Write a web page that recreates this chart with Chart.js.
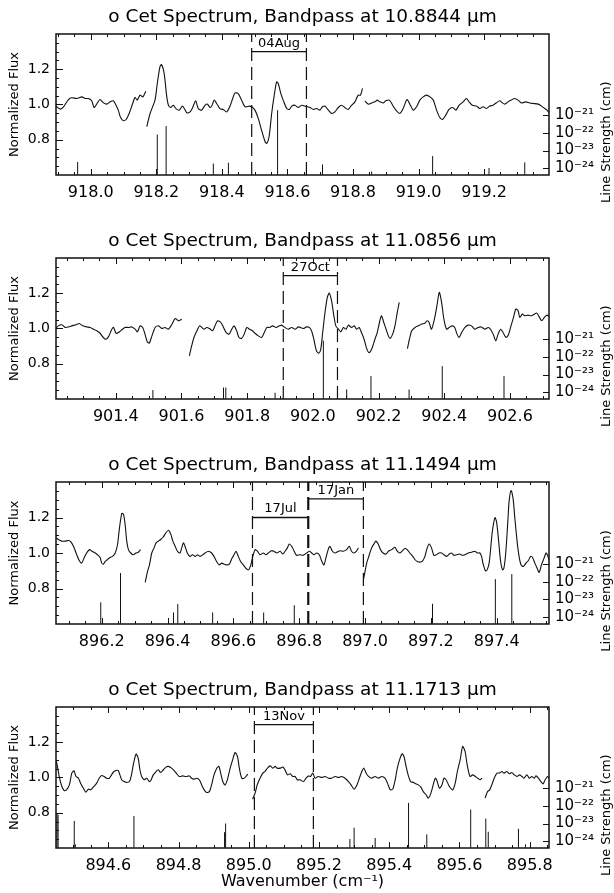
<!DOCTYPE html>
<html>
<head>
<meta charset="utf-8">
<script src="https://cdn.jsdelivr.net/npm/chart.js@4.4.0/dist/chart.umd.min.js"></script>
<style>
  html, body { margin: 0; background: #fff; }
  #wrap { position: relative; width: 614px; height: 893px; }
  .panel { position: absolute; left: 0; width: 614px; }
</style>
</head>
<body>
<div id="wrap">
  <div class="panel" style="top:0;height:224px"><canvas id="c1"></canvas></div>
  <div class="panel" style="top:224px;height:224px"><canvas id="c2"></canvas></div>
  <div class="panel" style="top:448px;height:225px"><canvas id="c3"></canvas></div>
  <div class="panel" style="top:673px;height:220px"><canvas id="c4"></canvas></div>
</div>
<script>
// shared axes
const panelTitles = [
  'o Cet Spectrum, Bandpass at 10.8844 μm',
  'o Cet Spectrum, Bandpass at 11.0856 μm',
  'o Cet Spectrum, Bandpass at 11.1494 μm',
  'o Cet Spectrum, Bandpass at 11.1713 μm'
];
const fluxRange = [0.6, 1.4];
const fluxTicks = [0.8, 1.0, 1.2];
const strengthRange = [4.2e-25, 4.5e-17];
const strengthTicks = [1e-21, 1e-22, 1e-23, 1e-24];
const strengthTickLabels = ['10⁻²¹', '10⁻²²', '10⁻²³', '10⁻²⁴'];
const strengthTitleAt = 3e-23;

// panel 1 (10.8844 um), null flux = gap in the spectrum
const p1XRange = [917.894, 919.398];
const p1XTicks = [918.0, 918.2, 918.4, 918.6, 918.8, 919.0, 919.2];
const p1Wave = [917.894, 917.907, 917.917, 917.932, 917.942, 917.957, 917.973, 917.983, 917.993, 918.003, 918.010, 918.018, 918.028, 918.039, 918.049, 918.059, 918.069, 918.077, 918.084, 918.091, 918.100, 918.108, 918.118, 918.128, 918.135, 918.142, 918.150, 918.159, 918.168,
  918.170,
  918.171, 918.181, 918.196, 918.203, 918.211, 918.216, 918.224, 918.232, 918.237, 918.244, 918.252, 918.260, 918.270, 918.280, 918.293, 918.303, 918.311, 918.320, 918.328, 918.338, 918.349, 918.356, 918.364, 918.369, 918.377, 918.384, 918.394, 918.404, 918.415, 918.425, 918.433, 918.440, 918.450, 918.460, 918.471, 918.484, 918.491, 918.501, 918.511, 918.521, 918.532, 918.537, 918.544, 918.552, 918.559, 918.567, 918.572, 918.580, 918.587, 918.598, 918.606, 918.613, 918.623, 918.633, 918.643, 918.653, 918.669, 918.679, 918.689, 918.699, 918.707, 918.714, 918.725, 918.735, 918.745, 918.755, 918.765, 918.775, 918.785, 918.796, 918.806, 918.816, 918.823, 918.829,
  918.832,
  918.836, 918.847, 918.857, 918.867, 918.874, 918.882, 918.892, 918.900, 918.911, 918.921, 918.931, 918.943, 918.953, 918.965, 918.975, 918.984, 918.994, 919.004, 919.014, 919.024, 919.035, 919.045, 919.055, 919.065, 919.073, 919.083, 919.093, 919.104, 919.114, 919.124, 919.136, 919.146, 919.154, 919.164, 919.177, 919.187, 919.197, 919.207, 919.217, 919.227, 919.237, 919.248, 919.256, 919.263, 919.273, 919.283, 919.293, 919.304, 919.314, 919.327, 919.339, 919.349, 919.365, 919.375, 919.385, 919.392, 919.398];
const p1Flux = [0.990, 0.974, 0.987, 1.028, 1.038, 1.034, 1.043, 1.034, 1.034, 1.021, 0.983, 1.002, 1.028, 1.009, 1.002, 1.015, 1.021, 0.996, 0.968, 0.926, 0.908, 0.915, 0.953, 1.006, 1.040, 1.025, 1.053, 1.043, 1.075,
  null,
  0.874, 0.949, 1.025, 1.119, 1.213, 1.226, 1.175, 1.043, 0.996, 0.983, 0.996, 0.977, 0.968, 0.991, 0.953, 0.958, 0.983, 1.021, 0.977, 0.968, 0.996, 1.002, 0.983, 0.991, 1.025, 1.006, 0.977, 0.972, 0.958, 0.991, 1.034, 1.066, 1.062, 1.025, 0.987, 0.991, 0.987, 0.968, 0.921, 0.855, 0.789, 0.779, 0.817, 0.949, 1.043, 1.128, 1.119, 1.062, 1.025, 0.977, 0.972, 0.991, 0.996, 0.983, 0.996, 0.991, 0.983, 0.972, 0.977, 0.968, 0.987, 0.991, 0.968, 0.949, 0.958, 0.983, 0.996, 0.983, 0.972, 0.996, 1.015, 1.053, 1.053, 1.091,
  null,
  1.021, 1.002, 1.009, 1.015, 1.025, 1.015, 1.009, 1.021, 1.025, 0.996, 0.968, 0.949, 0.977, 1.028, 0.996, 0.968, 0.987, 1.025, 1.043, 1.053, 1.043, 1.025, 0.968, 0.926, 0.915, 0.940, 0.972, 0.983, 0.968, 0.996, 1.015, 1.034, 1.015, 0.996, 0.991, 0.977, 0.987, 0.977, 0.991, 0.996, 1.009, 1.021, 1.009, 1.002, 1.015, 1.025, 1.034, 1.025, 1.009, 1.015, 1.009, 1.006, 1.002, 0.991, 0.977, 0.968, 0.953];
const p1LineWave = [917.960, 918.203, 918.230, 918.374, 918.420, 918.570, 918.707, 918.857, 919.043, 919.215, 919.324];
const p1LineStrength = [2.2e-24, 8.1e-23, 2.5e-22, 1.8e-24, 2.0e-24, 2.0e-21, 1.6e-24, 6.3e-25, 4.8e-24, 1.0e-24, 2.1e-24];
const p1Marks = [918.491, 918.658];
const p1BandText = ['04Aug'];
const p1BandFrom = [918.491];
const p1BandTo = [918.658];
const p1BandLevel = [1.30];

// panel 2 (11.0856 um)
const p2XRange = [901.218, 902.719];
const p2XTicks = [901.4, 901.6, 901.8, 902.0, 902.2, 902.4, 902.6];
const p2Wave = [901.218, 901.225, 901.236, 901.246, 901.256, 901.266, 901.279, 901.289, 901.300, 901.312, 901.322, 901.332, 901.342, 901.352, 901.362, 901.370, 901.378, 901.388, 901.393, 901.401, 901.408, 901.418, 901.428, 901.439, 901.449, 901.459, 901.466, 901.474, 901.482, 901.489, 901.496, 901.502, 901.510, 901.520, 901.530, 901.540, 901.550, 901.560, 901.570, 901.581, 901.591, 901.601,
  901.610,
  901.624, 901.631, 901.638, 901.647, 901.655, 901.662, 901.669, 901.677, 901.685, 901.695, 901.702, 901.710, 901.720, 901.728, 901.736, 901.745, 901.753, 901.760, 901.768, 901.775, 901.783, 901.791, 901.799, 901.807, 901.816, 901.824, 901.834, 901.844, 901.851, 901.860, 901.868, 901.878, 901.888, 901.898, 901.905, 901.915, 901.925, 901.936, 901.946, 901.956, 901.971, 901.981, 901.989, 901.996, 902.003, 902.011, 902.018, 902.024, 902.030, 902.037, 902.044, 902.050, 902.057, 902.064, 902.070, 902.078, 902.085, 902.093, 902.101, 902.108, 902.118, 902.126, 902.133, 902.141, 902.148, 902.156, 902.164, 902.171, 902.179, 902.189, 902.196, 902.204, 902.209, 902.216, 902.223, 902.230, 902.235, 902.243, 902.250, 902.257, 902.263,
  902.275,
  902.288, 902.294, 902.301, 902.311, 902.321, 902.331, 902.341, 902.348, 902.354, 902.361, 902.369, 902.377, 902.385, 902.392, 902.399, 902.407, 902.415, 902.425, 902.432, 902.439, 902.445, 902.453, 902.463, 902.473, 902.483, 902.493, 902.503, 902.513, 902.524, 902.534, 902.541, 902.549, 902.557, 902.564, 902.572, 902.579, 902.588, 902.595, 902.602, 902.610, 902.618, 902.625, 902.630, 902.638, 902.645, 902.655, 902.665, 902.675, 902.682, 902.690, 902.697, 902.705, 902.713, 902.719];
const p2Flux = [1.000, 1.015, 1.021, 1.006, 1.009, 1.015, 1.021, 1.028, 1.015, 1.009, 1.006, 0.996, 0.987, 0.973, 0.949, 0.939, 0.954, 0.996, 1.006, 0.973, 0.977, 0.992, 1.006, 1.006, 1.009, 0.996, 0.981, 1.015, 1.006, 0.968, 0.924, 0.917, 0.958, 1.006, 1.015, 1.000, 1.006, 0.996, 1.021, 1.057, 1.044, 1.053,
  null,
  0.844, 0.901, 0.949, 0.987, 1.015, 1.006, 0.996, 1.006, 1.000, 0.987, 1.015, 1.044, 1.034, 1.006, 0.977, 0.968, 0.996, 1.015, 0.987, 0.949, 0.943, 0.968, 1.006, 0.996, 0.987, 0.973, 0.958, 0.949, 0.973, 1.006, 1.006, 1.015, 1.006, 1.015, 1.019, 1.006, 0.996, 1.006, 0.996, 1.009, 1.000, 1.009, 1.006, 0.987, 0.939, 0.873, 0.860, 0.882, 0.977, 1.091, 1.176, 1.201, 1.157, 1.072, 1.015, 0.996, 0.981, 1.006, 0.996, 1.019, 1.006, 1.015, 0.996, 1.006, 0.977, 0.939, 0.886, 0.863, 0.882, 0.939, 0.977, 1.044, 1.072, 1.034, 0.996, 0.958, 0.943, 0.968, 1.015, 1.091, 1.148,
  null,
  0.886, 0.939, 0.987, 1.006, 1.015, 1.025, 1.030, 1.044, 1.034, 0.996, 1.044, 1.120, 1.205, 1.148, 1.053, 0.996, 1.006, 1.015, 1.006, 0.968, 0.949, 0.977, 1.006, 1.019, 1.015, 0.996, 1.006, 1.009, 0.996, 1.006, 0.996, 0.968, 0.930, 0.968, 0.996, 0.977, 0.949, 0.962, 1.006, 1.057, 1.110, 1.101, 1.063, 1.082, 1.072, 1.076, 1.072, 1.082, 1.087, 1.063, 1.044, 1.063, 1.076, 1.068];
const p2LineWave = [901.513, 901.728, 901.735, 901.885, 902.032, 902.103, 902.177, 902.293, 902.394, 902.582];
const p2LineStrength = [1.3e-24, 1.8e-24, 1.8e-24, 9.1e-25, 8.7e-22, 1.4e-24, 8.1e-24, 1.4e-24, 3.0e-23, 8.1e-24];
const p2Marks = [901.910, 902.075];
const p2BandText = ['27Oct'];
const p2BandFrom = [901.910];
const p2BandTo = [902.075];
const p2BandLevel = [1.30];

// panel 3 (11.1494 um)
const p3XRange = [896.061, 897.559];
const p3XTicks = [896.2, 896.4, 896.6, 896.8, 897.0, 897.2, 897.4];
const p3Wave = [896.061, 896.068, 896.078, 896.089, 896.099, 896.106, 896.114, 896.122, 896.132, 896.139, 896.146, 896.154, 896.163, 896.170, 896.180, 896.187, 896.195, 896.200, 896.205, 896.210, 896.217, 896.225, 896.233, 896.241, 896.248, 896.254, 896.261, 896.266, 896.271, 896.276, 896.281, 896.288, 896.296, 896.304, 896.311, 896.318,
  896.325,
  896.332, 896.339, 896.345, 896.352, 896.359, 896.365, 896.372, 896.379, 896.387, 896.395, 896.403, 896.410, 896.416, 896.423, 896.430, 896.438, 896.443, 896.448, 896.453, 896.460, 896.468, 896.476, 896.484, 896.491, 896.499, 896.507, 896.514, 896.524, 896.534, 896.541, 896.549, 896.557, 896.565, 896.572, 896.580, 896.588, 896.595, 896.602, 896.608, 896.615, 896.622, 896.630, 896.638, 896.646, 896.653, 896.659, 896.666, 896.673, 896.681, 896.691, 896.699, 896.706, 896.716, 896.723, 896.732, 896.742, 896.750, 896.757, 896.764, 896.770, 896.777, 896.784, 896.792, 896.802, 896.812, 896.823, 896.831, 896.838, 896.845, 896.853, 896.861, 896.868, 896.875, 896.881, 896.888, 896.893, 896.901, 896.909, 896.919, 896.926, 896.934, 896.944, 896.952, 896.959, 896.966, 896.974, 896.980,
  896.988,
  896.995, 897.000, 897.005, 897.013, 897.020, 897.027, 897.033, 897.040, 897.047, 897.055, 897.064, 897.071, 897.081, 897.091, 897.098, 897.106, 897.114, 897.121, 897.128, 897.136, 897.145, 897.152, 897.159, 897.167, 897.175, 897.182, 897.189, 897.195, 897.202, 897.209, 897.217, 897.225, 897.233, 897.240, 897.248, 897.256, 897.263, 897.270, 897.278, 897.288, 897.296, 897.303, 897.314, 897.324, 897.334, 897.341, 897.349, 897.354, 897.359, 897.366, 897.371, 897.377, 897.381, 897.387, 897.395, 897.400, 897.406, 897.412, 897.418, 897.422, 897.428, 897.434, 897.438, 897.444, 897.450, 897.455, 897.462, 897.468, 897.474, 897.481, 897.489, 897.496, 897.503, 897.509, 897.516, 897.523, 897.529, 897.536, 897.544, 897.550, 897.554, 897.559];
const p3Flux = [1.086, 1.076, 1.067, 1.067, 1.070, 1.063, 1.038, 1.000, 0.956, 0.943, 0.971, 1.000, 1.019, 1.010, 1.000, 0.990, 0.975, 0.943, 0.937, 0.952, 0.962, 0.975, 0.981, 1.000, 1.048, 1.143, 1.223, 1.219, 1.162, 1.067, 1.019, 1.000, 0.990, 1.000, 1.004, 1.019,
  null,
  0.834, 0.895, 0.933, 1.000, 1.029, 1.057, 1.067, 1.076, 1.090, 1.114, 1.128, 1.105, 1.067, 1.038, 1.010, 1.000, 1.029, 1.057, 1.038, 1.000, 0.981, 0.990, 0.981, 0.990, 0.981, 0.990, 1.000, 1.010, 1.000, 0.981, 0.952, 0.933, 0.943, 0.937, 0.933, 0.937, 0.968, 0.990, 1.010, 0.981, 0.952, 0.933, 0.914, 0.905, 0.933, 0.981, 1.019, 1.010, 0.990, 1.000, 0.990, 1.000, 1.013, 1.010, 1.000, 1.010, 0.994, 1.010, 1.029, 1.051, 1.038, 1.013, 0.987, 0.990, 0.987, 1.000, 1.010, 1.000, 0.990, 1.000, 0.990, 0.956, 0.933, 0.971, 1.019, 1.038, 1.010, 1.000, 1.010, 1.013, 1.010, 1.019, 1.038, 1.010, 1.000, 1.010, 1.029,
  null,
  0.848, 0.895, 0.943, 0.990, 1.029, 1.051, 1.067, 1.051, 1.019, 1.000, 0.994, 1.010, 1.019, 1.032, 1.010, 1.000, 1.013, 1.025, 1.019, 1.000, 0.981, 0.962, 0.952, 0.949, 0.956, 0.981, 1.029, 1.051, 1.029, 0.987, 0.990, 1.000, 1.000, 0.990, 0.981, 0.994, 1.000, 0.987, 0.990, 0.994, 0.987, 0.990, 1.000, 1.004, 1.010, 1.000, 1.000, 0.981, 0.937, 0.899, 0.905, 0.943, 1.010, 1.124, 1.200, 1.171, 1.067, 0.952, 0.905, 0.914, 1.010, 1.181, 1.295, 1.352, 1.305, 1.200, 1.067, 0.981, 0.933, 0.924, 0.943, 0.956, 0.981, 0.975, 0.943, 0.914, 0.891, 0.933, 0.971, 1.000, 0.990, 0.962];
const p3LineWave = [896.197, 896.257, 896.418, 896.431, 896.537, 896.692, 896.785, 897.205, 897.396, 897.446];
const p3LineStrength = [6.8e-24, 3.1e-22, 1.8e-24, 5.5e-24, 1.8e-24, 1.8e-24, 4.6e-24, 5.6e-24, 1.4e-22, 2.7e-22];
const p3Marks = [896.658, 896.826, 896.829, 896.995];
const p3BandText = ['17Jul', '17Jan'];
const p3BandFrom = [896.658, 896.828];
const p3BandTo = [896.828, 896.995];
const p3BandLevel = [1.20, 1.305];

// panel 4 (11.1713 um)
const p4XRange = [894.451, 895.855];
const p4XTicks = [894.6, 894.8, 895.0, 895.2, 895.4, 895.6, 895.8];
const p4Wave = [894.451, 894.455, 894.460, 894.467, 894.474, 894.481, 894.489, 894.496, 894.502, 894.508, 894.515, 894.521, 894.529, 894.536, 894.543, 894.550, 894.557, 894.567, 894.574, 894.581, 894.588, 894.595, 894.603, 894.609, 894.616, 894.622, 894.628, 894.633, 894.638, 894.645, 894.652, 894.660, 894.666, 894.671, 894.679, 894.685, 894.690, 894.695, 894.702, 894.709, 894.717, 894.721, 894.728, 894.736, 894.742, 894.749, 894.757, 894.764, 894.771, 894.780, 894.787, 894.795, 894.802, 894.812, 894.821, 894.831, 894.837, 894.844, 894.852, 894.859, 894.866, 894.873, 894.880, 894.888, 894.894, 894.901, 894.909, 894.915, 894.920, 894.926, 894.932, 894.939, 894.947, 894.954, 894.961, 894.968, 894.973, 894.980, 894.987, 894.992, 894.997,
  895.004,
  895.011, 895.018, 895.024, 895.032, 895.040, 895.046, 895.053, 895.061, 895.068, 895.075, 895.081, 895.089, 895.097, 895.103, 895.110, 895.118, 895.125, 895.132, 895.138, 895.146, 895.156, 895.163, 895.170, 895.176, 895.182, 895.189, 895.198, 895.208, 895.217, 895.227, 895.236, 895.246, 895.255, 895.265, 895.274, 895.284, 895.293, 895.300, 895.308, 895.315, 895.322, 895.328, 895.334, 895.341, 895.350, 895.360, 895.369, 895.379, 895.388, 895.395, 895.403, 895.410, 895.417, 895.423, 895.431, 895.437, 895.442, 895.448, 895.455, 895.461, 895.469, 895.476, 895.483, 895.490, 895.497, 895.505, 895.511, 895.518, 895.524, 895.531, 895.535, 895.543, 895.550, 895.556, 895.562, 895.569, 895.575, 895.581, 895.588, 895.594, 895.602, 895.609, 895.616, 895.622, 895.630, 895.638, 895.645, 895.652, 895.659, 895.664,
  895.668,
  895.673, 895.680, 895.686, 895.692, 895.699, 895.707, 895.714, 895.721, 895.727, 895.735, 895.742, 895.749, 895.756, 895.764, 895.771, 895.778, 895.784, 895.792, 895.799, 895.806, 895.813, 895.818, 895.825, 895.832, 895.838, 895.844, 895.851, 895.855];
const p4Flux = [1.100, 1.063, 1.006, 0.953, 0.926, 0.930, 0.958, 1.025, 1.038, 1.006, 0.996, 0.968, 0.939, 0.917, 0.934, 0.930, 0.945, 0.968, 0.996, 1.011, 1.006, 0.996, 0.996, 1.015, 1.034, 1.040, 1.040, 1.015, 0.987, 0.977, 0.972, 0.977, 1.015, 1.072, 1.133, 1.110, 1.044, 1.006, 0.987, 0.996, 0.977, 0.983, 1.015, 1.034, 1.044, 1.028, 1.044, 1.059, 1.063, 1.053, 1.040, 1.021, 1.006, 1.009, 1.006, 1.009, 0.996, 0.991, 0.996, 0.987, 0.958, 0.930, 0.915, 0.920, 0.958, 1.015, 1.053, 1.063, 1.025, 0.977, 0.958, 0.987, 1.053, 1.100, 1.142, 1.119, 1.053, 0.996, 0.996, 1.006, 1.019,
  null,
  0.877, 0.911, 0.958, 0.996, 1.025, 1.034, 1.053, 1.066, 1.053, 1.063, 1.053, 1.053, 1.059, 1.044, 1.015, 1.021, 1.006, 1.006, 0.987, 0.987, 0.977, 0.996, 1.009, 1.006, 1.025, 0.996, 1.006, 1.000, 1.006, 0.996, 0.996, 1.006, 1.000, 1.006, 0.996, 0.977, 0.953, 0.934, 0.958, 0.996, 1.034, 1.053, 1.025, 1.006, 0.996, 1.006, 0.996, 1.006, 0.996, 0.968, 0.930, 0.934, 0.987, 1.053, 1.110, 1.134, 1.119, 1.063, 1.006, 0.977, 0.972, 0.964, 0.958, 0.945, 0.920, 0.902, 0.883, 0.907, 0.949, 0.996, 0.987, 0.939, 0.958, 0.996, 0.987, 0.958, 0.939, 0.930, 0.968, 1.034, 1.100, 1.176, 1.148, 1.072, 1.006, 1.015, 1.006, 0.996, 0.987, 0.996,
  null,
  0.883, 0.920, 0.930, 0.958, 0.996, 1.025, 1.025, 1.034, 1.025, 1.034, 1.021, 1.028, 1.015, 1.006, 1.015, 1.006, 0.996, 1.015, 0.996, 1.006, 0.996, 1.009, 0.996, 0.977, 0.964, 0.987, 1.006, 0.996];
const p4LineWave = [894.454, 894.457, 894.503, 894.506, 894.673, 894.931, 894.934, 895.288, 895.300, 895.360, 895.455, 895.507, 895.632, 895.675, 895.682, 895.768, 895.788];
const p4LineStrength = [3.8e-23, 3.2e-23, 1.4e-23, 6.5e-25, 2.7e-23, 3.2e-24, 1.0e-23, 1.3e-24, 5.8e-24, 1.5e-24, 1.5e-22, 2.4e-24, 6.3e-23, 1.9e-23, 3.4e-24, 5.0e-24, 6.5e-25];
const p4Marks = [895.016, 895.184];
const p4BandText = ['13Nov'];
const p4BandFrom = [895.016];
const p4BandTo = [895.184];
const p4BandLevel = [1.30];

const FONT = '"DejaVu Sans", sans-serif';

// tick marks drawn inside the box, box itself, band labels, right axis title
const spectrumDecor = {
    id: 'spectrumDecor',
    afterDatasetsDraw(chart, args, opts) {
        const { ctx, chartArea: a } = chart;
        const x = chart.scales.x;
        const y = chart.scales.y;
        const s = chart.scales.yS;
        ctx.save();
        ctx.strokeStyle = '#111';
        ctx.lineWidth = 1;
        ctx.beginPath();
        for (let k = Math.ceil(x.min * 20 - 1e-6); k <= Math.floor(x.max * 20 + 1e-6); k++) {
            const px = Math.round(x.getPixelForValue(k / 20)) + 0.5;
            const len = k % 4 === 0 ? 6 : 3;
            ctx.moveTo(px, a.bottom); ctx.lineTo(px, a.bottom - len);
            ctx.moveTo(px, a.top); ctx.lineTo(px, a.top + len);
        }
        for (let k = 13; k < 28; k++) {
            const py = Math.round(y.getPixelForValue(k / 20)) + 0.5;
            const len = k % 4 === 0 ? 7 : 3;
            ctx.moveTo(a.left, py); ctx.lineTo(a.left + len, py);
        }
        strengthTicks.forEach((v) => {
            const py = Math.round(s.getPixelForValue(v)) + 0.5;
            ctx.moveTo(a.right, py); ctx.lineTo(a.right - 6, py);
        });
        ctx.stroke();

        ctx.lineWidth = 1.5;
        ctx.strokeRect(a.left, a.top, a.right - a.left, a.bottom - a.top);

        ctx.fillStyle = '#000';
        ctx.font = '13px ' + FONT;
        ctx.textAlign = 'center';
        ctx.textBaseline = 'bottom';
        opts.bandText.forEach((t, i) => {
            const cx = (x.getPixelForValue(opts.bandFrom[i]) + x.getPixelForValue(opts.bandTo[i])) / 2;
            ctx.fillText(t, cx, y.getPixelForValue(opts.bandLevel[i]) - 2);
        });

        ctx.translate(607, s.getPixelForValue(strengthTitleAt));
        ctx.rotate(-Math.PI / 2);
        ctx.textBaseline = 'middle';
        ctx.fillText('Line Strength (cm)', 0, 0);
        ctx.restore();
    }
};

function lineSegments(xs, ys, base) {
    const pts = [];
    xs.forEach((v, i) => {
        pts.push({ x: v, y: base }, { x: v, y: ys[i] }, { x: v, y: null });
    });
    return pts;
}

function makePanel(id, p, last) {
    const canvas = document.getElementById(id);
    const markPts = [];
    p.marks.forEach((v) => markPts.push({ x: v, y: fluxRange[0] }, { x: v, y: fluxRange[1] }, { x: v, y: null }));
    const bandPts = [];
    p.bandFrom.forEach((v, i) => bandPts.push({ x: v, y: p.bandLevel[i] }, { x: p.bandTo[i], y: p.bandLevel[i] }, { x: v, y: null }));

    return new Chart(canvas, {
        type: 'line',
        data: {
            datasets: [
                {
                    label: 'spectrum',
                    data: p.wave.map((v, i) => ({ x: v, y: p.flux[i] })),
                    yAxisID: 'y',
                    borderColor: '#111',
                    borderWidth: 1.1,
                    pointRadius: 0,
                    tension: 0.25,
                    spanGaps: false
                },
                {
                    label: 'lines',
                    data: lineSegments(p.lineWave, p.lineStrength, strengthRange[0]),
                    yAxisID: 'yS',
                    borderColor: '#111',
                    borderWidth: 1,
                    pointRadius: 0,
                    tension: 0,
                    spanGaps: false
                },
                {
                    label: 'bandpass',
                    data: markPts,
                    yAxisID: 'y',
                    borderColor: '#111',
                    borderWidth: 1.2,
                    borderDash: [13, 6],
                    pointRadius: 0,
                    tension: 0,
                    spanGaps: false
                },
                {
                    label: 'date',
                    data: bandPts,
                    yAxisID: 'y',
                    borderColor: '#111',
                    borderWidth: 1.3,
                    pointRadius: 0,
                    tension: 0,
                    spanGaps: false
                }
            ]
        },
        options: {
            responsive: true,
            maintainAspectRatio: false,
            animation: false,
            events: [],
            layout: { padding: 0 },
            plugins: {
                legend: { display: false },
                tooltip: { enabled: false },
                title: {
                    display: true,
                    text: p.title,
                    fullSize: false,
                    color: '#000',
                    font: { family: FONT, size: 18.5, weight: 'normal' },
                    padding: { top: 6, bottom: 5.8 }
                },
                spectrumDecor: { bandText: p.bandText, bandFrom: p.bandFrom, bandTo: p.bandTo, bandLevel: p.bandLevel }
            },
            scales: {
                x: {
                    type: 'linear',
                    min: p.xRange[0],
                    max: p.xRange[1],
                    offset: false,
                    grid: { display: false, drawTicks: false },
                    border: { display: false },
                    afterBuildTicks: (sc) => { sc.ticks = p.xTicks.map((v) => ({ value: v })); },
                    afterFit: (sc) => { sc.height = last ? 45 : 49; },
                    ticks: {
                        color: '#000',
                        padding: 8,
                        maxRotation: 0,
                        autoSkip: false,
                        font: { family: FONT, size: 16 },
                        callback: (v) => Number(v).toFixed(1)
                    },
                    title: {
                        display: last,
                        text: 'Wavenumber (cm⁻¹)',
                        color: '#000',
                        font: { family: FONT, size: 16 },
                        padding: { top: 0, bottom: 2 }
                    }
                },
                y: {
                    type: 'linear',
                    position: 'left',
                    min: fluxRange[0],
                    max: fluxRange[1],
                    grid: { display: false, drawTicks: false },
                    border: { display: false },
                    afterBuildTicks: (sc) => { sc.ticks = fluxTicks.map((v) => ({ value: v })); },
                    afterFit: (sc) => { sc.width = 56; },
                    ticks: {
                        color: '#000',
                        padding: 6,
                        font: { family: FONT, size: 14 },
                        callback: (v) => Number(v).toFixed(1)
                    },
                    title: {
                        display: true,
                        text: 'Normalized Flux',
                        color: '#000',
                        font: { family: FONT, size: 13 },
                        padding: { top: 7, bottom: 0 }
                    }
                },
                yS: {
                    type: 'logarithmic',
                    position: 'right',
                    min: strengthRange[0],
                    max: strengthRange[1],
                    grid: { display: false, drawTicks: false },
                    border: { display: false },
                    afterBuildTicks: (sc) => { sc.ticks = strengthTicks.map((v) => ({ value: v })); },
                    afterFit: (sc) => { sc.width = 65; },
                    ticks: {
                        color: '#000',
                        padding: 6,
                        autoSkip: false,
                        font: { family: FONT, size: 15 },
                        callback: (v, i) => strengthTickLabels[i]
                    }
                }
            }
        },
        plugins: [spectrumDecor]
    });
}

makePanel('c1', { title: panelTitles[0], xRange: p1XRange, xTicks: p1XTicks, wave: p1Wave, flux: p1Flux, lineWave: p1LineWave, lineStrength: p1LineStrength, marks: p1Marks, bandText: p1BandText, bandFrom: p1BandFrom, bandTo: p1BandTo, bandLevel: p1BandLevel }, false);
makePanel('c2', { title: panelTitles[1], xRange: p2XRange, xTicks: p2XTicks, wave: p2Wave, flux: p2Flux, lineWave: p2LineWave, lineStrength: p2LineStrength, marks: p2Marks, bandText: p2BandText, bandFrom: p2BandFrom, bandTo: p2BandTo, bandLevel: p2BandLevel }, false);
makePanel('c3', { title: panelTitles[2], xRange: p3XRange, xTicks: p3XTicks, wave: p3Wave, flux: p3Flux, lineWave: p3LineWave, lineStrength: p3LineStrength, marks: p3Marks, bandText: p3BandText, bandFrom: p3BandFrom, bandTo: p3BandTo, bandLevel: p3BandLevel }, false);
makePanel('c4', { title: panelTitles[3], xRange: p4XRange, xTicks: p4XTicks, wave: p4Wave, flux: p4Flux, lineWave: p4LineWave, lineStrength: p4LineStrength, marks: p4Marks, bandText: p4BandText, bandFrom: p4BandFrom, bandTo: p4BandTo, bandLevel: p4BandLevel }, true);
</script>
</body>
</html>
